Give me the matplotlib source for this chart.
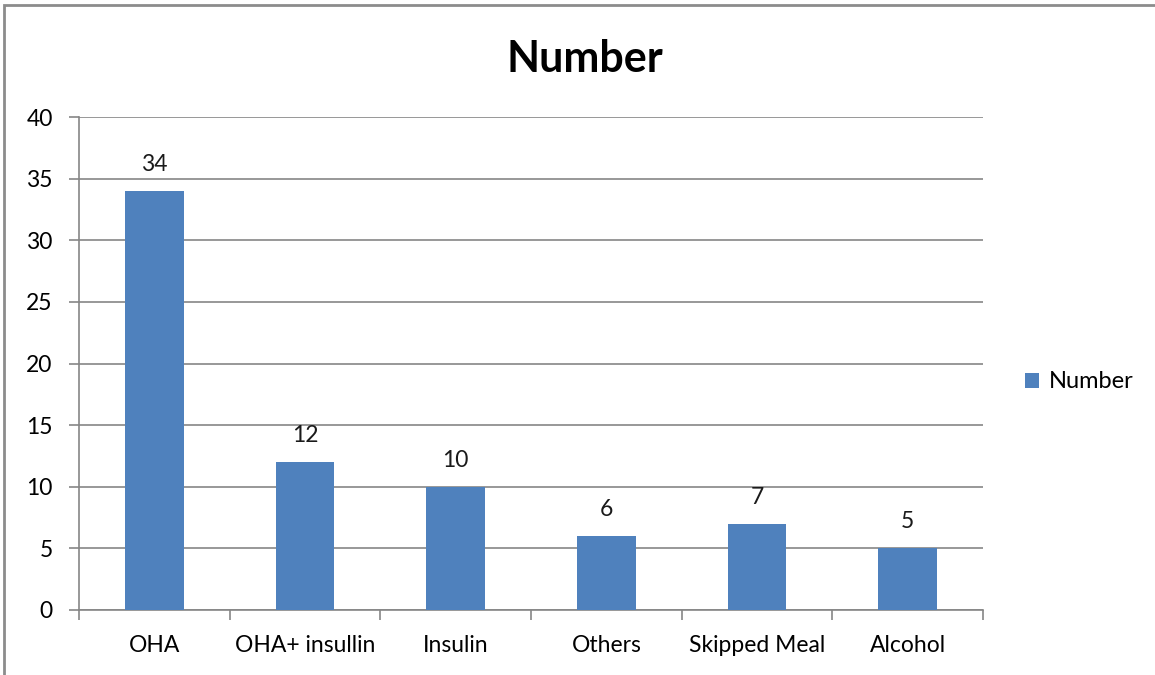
import matplotlib
matplotlib.use('Agg')
import matplotlib.pyplot as plt
from matplotlib.patches import Rectangle

# values
categories = ['OHA', 'OHA+ insullin', 'Insulin', 'Others', 'Skipped Meal', 'Alcohol']
number = [34, 12, 10, 6, 7, 5]
y_ticks = [0, 5, 10, 15, 20, 25, 30, 35, 40]

BAR_COLOR = '#4F81BD'
GRID_COLOR = '#868686'
FS = 16.5

plt.rcParams['font.family'] = ['Lato', 'DejaVu Sans']

fig = plt.figure(figsize=(11.55, 6.75), dpi=100)
ax = fig.add_axes([79 / 1155, 65 / 675, (983 - 79) / 1155, (610 - 117) / 675])

# outer chart frame (runs off the right and bottom edges)
fig.patches.append(Rectangle((4 / 1155, -0.1), 1.2, (675 - 5) / 675 + 0.1,
                             transform=fig.transFigure, fill=False,
                             edgecolor='#8c8c8c', linewidth=2, clip_on=False))

x = list(range(len(categories)))
bars = ax.bar(x, number, width=0.39, color=BAR_COLOR, label='Number', zorder=3)

for b, v in zip(bars, number):
    ax.text(b.get_x() + b.get_width() / 2, v + 1.3, str(v), ha='center', va='bottom',
            fontsize=FS, color='#1a1a1a')

ax.set_xlim(-0.5, len(categories) - 0.5)
ax.set_ylim(0, 40)
ax.set_yticks(y_ticks)
ax.yaxis.grid(True, color=GRID_COLOR, linewidth=1.2, zorder=0)
ax.set_axisbelow(True)

# tick marks at category boundaries, labels at centers
ax.set_xticks([i - 0.5 for i in range(len(categories) + 1)])
ax.set_xticklabels([])
ax.set_xticks(x, minor=True)
ax.set_xticklabels(categories, minor=True)
ax.tick_params(axis='x', which='major', length=7, width=1.2, color=GRID_COLOR)
ax.tick_params(axis='x', which='minor', length=0, pad=18, labelsize=FS)
ax.tick_params(axis='y', length=7, width=1.2, color=GRID_COLOR, pad=12, labelsize=FS)

for side in ['top', 'right']:
    ax.spines[side].set_visible(False)
for side in ['left', 'bottom']:
    ax.spines[side].set_color(GRID_COLOR)
    ax.spines[side].set_linewidth(1.2)

fig.text(585 / 1155, (675 - 59) / 675, 'Number', ha='center', va='center',
         fontsize=31, fontweight='bold')

fig.legend(handles=[bars], labels=['Number'], loc='center left',
           bbox_to_anchor=(1004 / 1155, (675 - 382) / 675), frameon=False,
           fontsize=17, handlelength=0.6, handleheight=0.6, handletextpad=0.4)

fig.savefig('out.png', dpi=100)
